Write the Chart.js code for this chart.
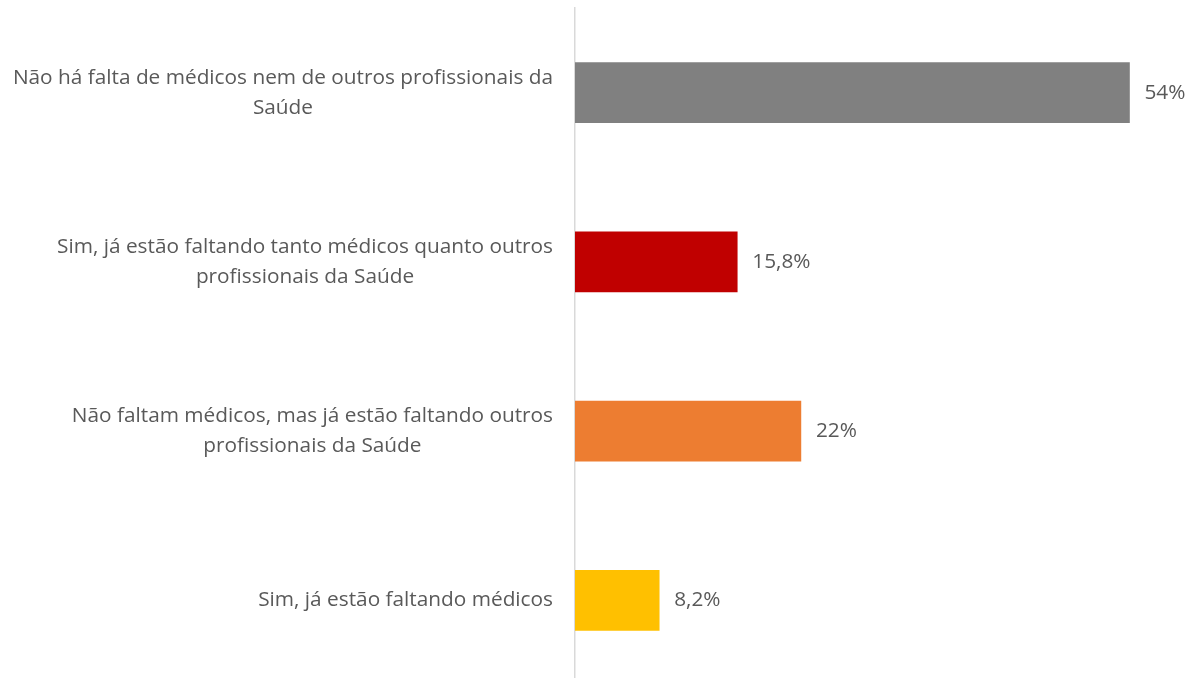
<!DOCTYPE html>
<html>
<head>
<meta charset="utf-8">
<script src="https://cdn.jsdelivr.net/npm/chart.js@4/dist/chart.umd.min.js"></script>
<style>
  html, body { margin: 0; padding: 0; background: #ffffff; overflow: hidden; }
  #wrap { position: relative; width: 1188px; height: 686px; }
</style>
</head>
<body>
<div id="wrap"><canvas id="c"></canvas></div>
<script>
const categories = [
  ["Não há falta de médicos nem de outros profissionais da", "Saúde"],
  ["Sim, já estão faltando tanto médicos quanto outros", "profissionais da Saúde"],
  ["Não faltam médicos, mas já estão faltando outros", "profissionais da Saúde"],
  ["Sim, já estão faltando médicos"]
];
const values = [54, 15.8, 22, 8.2];
const valueLabels = ["54%", "15,8%", "22%", "8,2%"];
const barColors = ["#808080", "#C00000", "#ED7D31", "#FFC000"];

const FONT = "20.8px 'Open Sans', sans-serif";
const TEXT = "#595959";

const labelPlugin = {
  id: 'labels',
  afterDraw(chart) {
    const ctx = chart.ctx;
    const y = chart.scales.y;
    ctx.save();
    ctx.font = FONT;
    ctx.fillStyle = TEXT;
    ctx.textBaseline = 'middle';
    const lineH = 30;
    const right = chart.chartArea.left - 22;
    categories.forEach((lines, i) => {
      const cy = y.getPixelForValue(i);
      const maxW = Math.max(...lines.map(l => ctx.measureText(l).width));
      const cx = right - maxW / 2;
      ctx.textAlign = 'center';
      const startY = cy - (lines.length - 1) * lineH / 2;
      lines.forEach((l, k) => ctx.fillText(l, cx, startY + k * lineH));
    });
    const meta = chart.getDatasetMeta(0);
    ctx.textAlign = 'left';
    meta.data.forEach((bar, i) => {
      ctx.fillText(valueLabels[i], bar.x + 15, bar.y);
    });
    ctx.restore();
  }
};

new Chart(document.getElementById('c'), {
  type: 'bar',
  data: {
    labels: categories,
    datasets: [{
      data: values,
      backgroundColor: barColors,
      barThickness: 60
    }]
  },
  options: {
    indexAxis: 'y',
    responsive: true,
    maintainAspectRatio: false,
    animation: false,
    layout: { padding: { top: 8, bottom: 1, left: 0, right: 0 } },
    plugins: { legend: { display: false }, tooltip: { enabled: false } },
    scales: {
      x: {
        display: false,
        min: 0,
        max: 59.7
      },
      y: {
        grid: { display: false },
        border: { display: true, color: '#D9D9D9', width: 1.5 },
        ticks: { display: false },
        afterFit: s => { s.width = 575; }
      }
    }
  },
  plugins: [labelPlugin]
});
</script>
</body>
</html>
